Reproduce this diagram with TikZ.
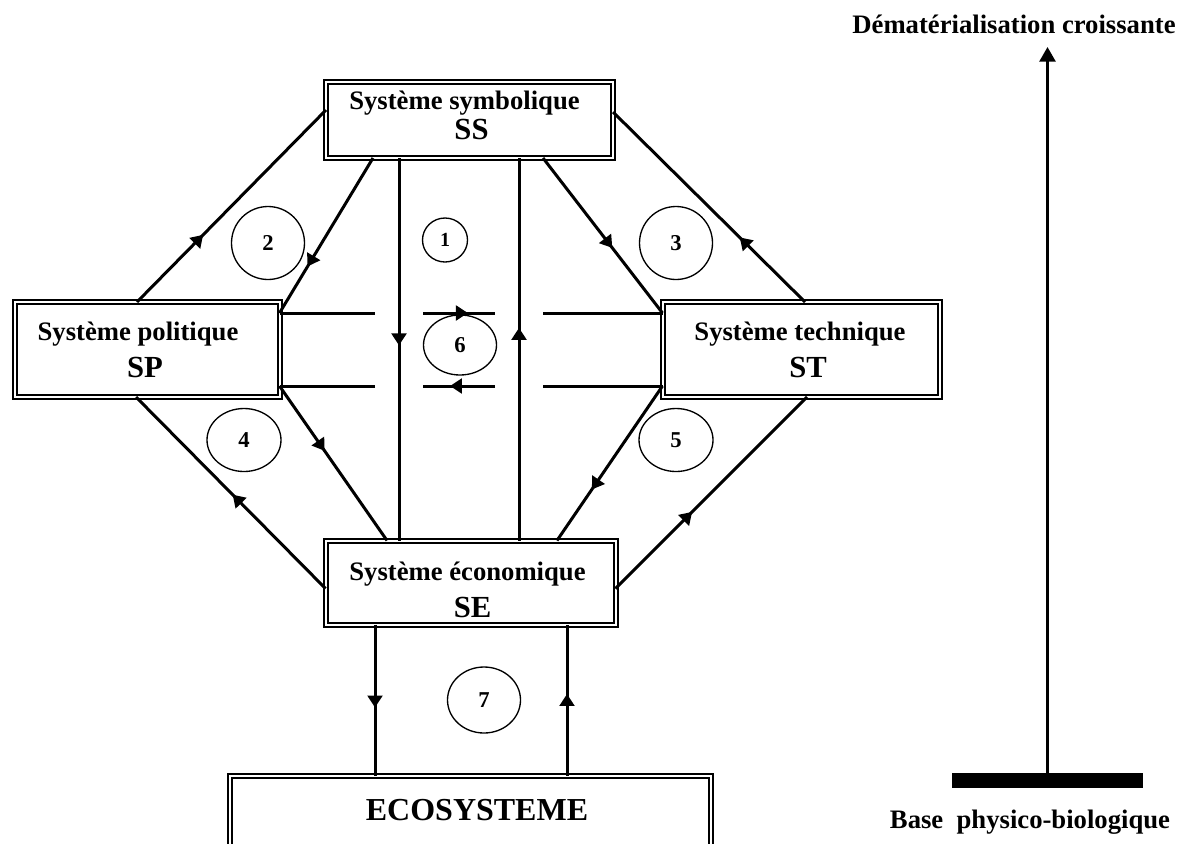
\documentclass[tikz,border=0pt]{standalone}
\usepackage{fontspec}
\setmainfont{Liberation Serif}
\usetikzlibrary{arrows.meta,calc,decorations.markings,shapes.geometric}

\begin{document}
\begin{tikzpicture} [
  x=0.75pt, y=-0.75pt,
  sys box/.style= {draw,double,line width=1.5pt,double distance=1.5pt,outer sep=0,inner sep=0},
  sys name/.style= {anchor=base,inner sep=0,font=\bfseries\fontsize{20}{22}\selectfont},
  sys abbr/.style= {anchor=base,inner sep=0,font=\bfseries\fontsize{23}{23}\selectfont},
  big/.style= {anchor=base,inner sep=0,font=\bfseries\fontsize{24}{24}\selectfont},
  num node/.style= {ellipse,draw,line width=1pt,inner sep=0,font=\bfseries\fontsize{17}{17}\selectfont},
  flow/.style= {line width=2.25pt},
  arrow at/.style= {decoration={markings,mark=at position #1 with {\arrow{Triangle[length=9pt,width=11pt]}}},postaction={decorate}},
  axis text/.style= {anchor=base,inner sep=0,font=\bfseries\fontsize{20}{22}\selectfont},
]
\clip (0,0) rectangle (1191,843);
% the five systems
\node (SS) [sys box,minimum width=215.25pt,minimum height=57pt] at (469.5,120) {};
\node (SP) [sys box,minimum width=198.75pt,minimum height=71.25pt] at (147,349.5) {};
\node (ST) [sys box,minimum width=207.75pt,minimum height=71.25pt] at (801,349.5) {};
\node (SE) [sys box,minimum width=217.5pt,minimum height=63pt] at (470.5,582.5) {};
\node (ECO) [sys box,minimum width=360.75pt,minimum height=97.5pt,anchor=north] at (470,775.5) {};

\node (SS-name) [sys name] at (464.5,109) {Système symbolique};
\node (SS-abbr) [sys abbr] at (471.5,139) {SS};
\node (SP-name) [sys name] at (138,340) {Système politique};
\node (SP-abbr) [sys abbr] at (145,377) {SP};
\node (ST-name) [sys name] at (800,340) {Système technique};
\node (ST-abbr) [sys abbr] at (808,377) {ST};
\node (SE-name) [sys name] at (467.5,580) {Système économique};
\node (SE-abbr) [sys abbr] at (472.5,617) {SE};
\node (ECO-name) [big] at (477,820) {ECOSYSTEME};

% numbered loops
\node (n1) [num node,minimum width=33.75pt,minimum height=33pt,font=\bfseries\fontsize{15}{15}\selectfont] at (445,240) {1};
\node (n2) [num node,minimum width=54.75pt,minimum height=54.75pt] at (268,243) {2};
\node (n3) [num node,minimum width=54.75pt,minimum height=54.75pt] at (676,243) {3};
\node (n4) [num node,minimum width=55.5pt,minimum height=47.25pt] at (244,440) {4};
\node (n5) [num node,minimum width=55.5pt,minimum height=47.25pt] at (676,440) {5};
\node (n6) [num node,minimum width=54.75pt,minimum height=45pt] at (460,345) {6};
\node (n7) [num node,minimum width=54.75pt,minimum height=49.5pt] at (484,700) {7};

% links
\draw [flow,arrow at=0.35] ($(SP.north)+(-10,0)$) -- ($(SS.west)+(0,-10)$);
\draw [flow,arrow at=0.7] ($(SS.south)+(-96.5,0)$) -- ($(SP.east)+(0,-36.5)$);
\draw [flow,arrow at=0.49] ($(SS.south)+(-70.5,0)$) -- ($(SE.north)+(-71.5,0)$);
\draw [flow,arrow at=0.556] ($(SE.north)+(48.5,0)$) -- ($(SS.south)+(49.5,0)$);
\draw [flow,arrow at=0.58] ($(SS.south)+(73.5,0)$) -- ($(ST.west)+(0,-36.5)$);
\draw [flow,arrow at=0.34] ($(ST.north)+(4,0)$) -- ($(SS.east)+(0,-8)$);
\draw [flow,arrow at=0.492,dash pattern=on 71.625pt off 36pt on 54pt off 36pt on 89.625pt] ($(SP.east)+(0,-36.5)$) -- ($(ST.west)+(0,-36.5)$);
\draw [flow,arrow at=0.555,dash pattern=on 89.625pt off 36pt on 54pt off 36pt on 71.625pt] ($(ST.west)+(0,36.5)$) -- ($(SP.east)+(0,36.5)$);
\draw [flow,arrow at=0.42] ($(SP.east)+(0,36.5)$) -- ($(SE.north)+(-83.5,0)$);
\draw [flow,arrow at=0.49] ($(SE.west)+(0,6)$) -- ($(SP.south)+(-11,0)$);
\draw [flow,arrow at=0.67] ($(ST.west)+(0,36.5)$) -- ($(SE.north)+(86.5,0)$);
\draw [flow,arrow at=0.4] ($(SE.east)+(0,6)$) -- ($(ST.south)+(6,0)$);
\draw [flow,arrow at=0.55] ($(SE.south)+(-95.5,0)$) -- ($(ECO.north)+(-95,0)$);
\draw [flow,arrow at=0.54] ($(ECO.north)+(97,0)$) -- ($(SE.south)+(96.5,0)$);

% scale on the right
\node (base) [fill=black,inner sep=0,minimum width=143.25pt,minimum height=11.25pt] at (1047.5,780.5) {};
\coordinate (top) at (1047.5,47);
\draw [line width=2pt,-{Triangle[length=11pt,width=12pt]}] (base.north) -- (top);
\node (dema) [axis text] at (1014,33) {Dématérialisation croissante};
\node (phys) [axis text] at (1030,828) {Base~~physico-biologique};
\end{tikzpicture}
\end{document}
